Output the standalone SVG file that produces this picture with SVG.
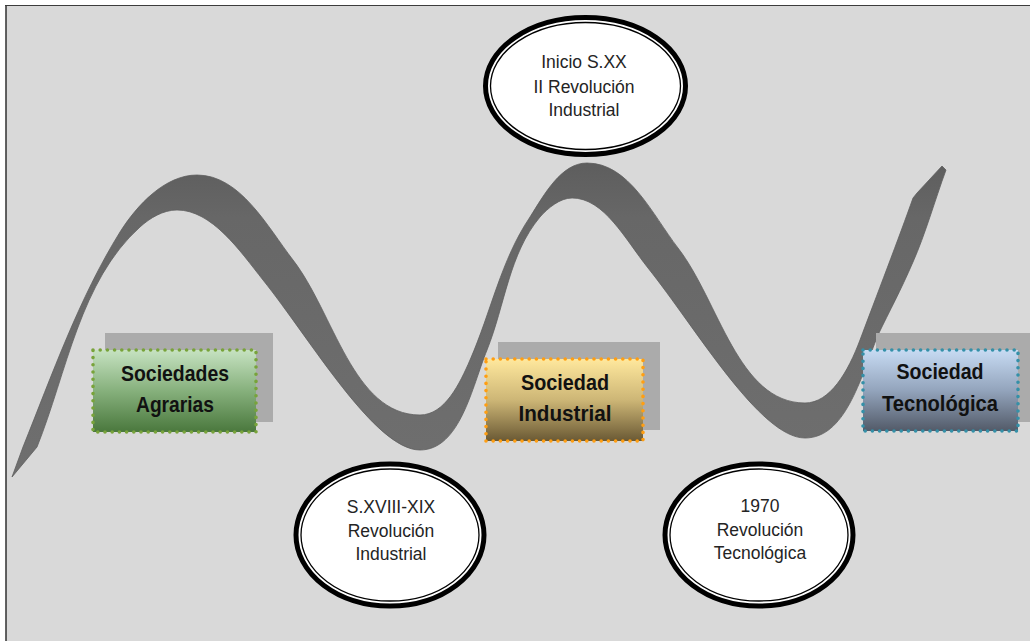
<svg xmlns="http://www.w3.org/2000/svg" width="1030" height="641" viewBox="0 0 1030 641">
  <defs>
    <linearGradient id="gGreen" x1="0" y1="0" x2="0" y2="1">
      <stop offset="0" stop-color="#c6e2c1"/>
      <stop offset="0.5" stop-color="#86b07c"/>
      <stop offset="1" stop-color="#4a783d"/>
    </linearGradient>
    <linearGradient id="gGold" x1="0" y1="0" x2="0" y2="1">
      <stop offset="0" stop-color="#ffe89d"/>
      <stop offset="0.5" stop-color="#cdb676"/>
      <stop offset="1" stop-color="#6a5934"/>
    </linearGradient>
    <linearGradient id="gBlue" x1="0" y1="0" x2="0" y2="1">
      <stop offset="0" stop-color="#c7dbf3"/>
      <stop offset="0.5" stop-color="#93a4bc"/>
      <stop offset="1" stop-color="#525a68"/>
    </linearGradient>
    <linearGradient id="gRibbon" x1="0" y1="160" x2="0" y2="480" gradientUnits="userSpaceOnUse">
      <stop offset="0" stop-color="#5d5d5d"/>
      <stop offset="0.18" stop-color="#676767"/>
      <stop offset="1" stop-color="#6f6f6f"/>
    </linearGradient>
  </defs>
  <style>
    .shadow { fill: #ababab; }
    .box { stroke-width: 3.6; stroke-linecap: round; stroke-dasharray: 0 7.2; }
    .boxText { font-family: "Liberation Sans", Arial, sans-serif; font-size: 22px; font-weight: bold; fill: #111; text-anchor: middle; }
    .ring { fill: #ffffff; stroke: #000000; stroke-width: 5; }
    .ringInner { fill: none; stroke: #000000; stroke-width: 1.3; }
    .ovalText { font-family: "Liberation Sans", Arial, sans-serif; font-size: 17.5px; fill: #242424; text-anchor: middle; }
  </style>

  <!-- frame -->
  <rect x="0" y="0" width="1030" height="641" fill="#ffffff"/>
  <rect x="6" y="5" width="1030" height="641" fill="#d9d9d9"/>
  <line x1="5" y1="5.5" x2="1030" y2="5.5" stroke="#3c3c3c" stroke-width="1.2"/>
  <line x1="6" y1="5" x2="6" y2="641" stroke="#3c3c3c" stroke-width="1.6"/>

  <!-- the wave ribbon -->
  <g id="connectors">
    <g id="wave">
      <path fill="url(#gRibbon)" stroke="#5e5e5e" stroke-width="0.8" stroke-linejoin="round"
        d="M 12,477 L 23,447 C 52,375 79,298 120,232 C 137,205 165,175 197,175
           C 240,175 267,226 293,260 C 334,313 353,415 420,415
           C 445,415 460,383 470,360 C 491,312 501,260 530,217
           C 544,195 561,163 587,163 C 629,163 652,214 678,248
           C 719,301 738,403 805,403 C 830,403 848,372 860,340
           C 875,300 900,235 913,198 L 917,193 L 942,166 L 946,170
           C 935,200 925,235 913,262 C 900,292 890,310 878,335
           C 860,380 845,438 805,438 C 760,438 696,328 648,268
           C 625,239 604,198 572,198 C 560,198 548,208 540,217
           C 509,254 505,305 487,350 C 472,387 460,450 420,450
           C 375,450 311,340 263,280 C 240,251 212,210 177,210
           C 163,210 150,218 140,227 C 80,281 67,372 37,447 Z"/>
    </g>
  </g>

  <!-- Sociedades Agrarias -->
  <g id="node-agrarias">
    <rect class="shadow" x="105" y="333" width="168" height="89"/>
    <rect class="box" x="93" y="350" width="163" height="82" fill="url(#gGreen)" stroke="#78a33a"/>
    <text class="boxText" x="175" y="381" textLength="108" lengthAdjust="spacingAndGlyphs">Sociedades</text>
    <text class="boxText" x="175" y="412" textLength="78" lengthAdjust="spacingAndGlyphs">Agrarias</text>
  </g>

  <!-- Sociedad Industrial -->
  <g id="node-industrial">
    <rect class="shadow" x="498" y="342" width="162" height="88"/>
    <rect class="box" x="486" y="359" width="157" height="82" fill="url(#gGold)" stroke="#ff9e12"/>
    <text class="boxText" x="565" y="390" textLength="88" lengthAdjust="spacingAndGlyphs">Sociedad</text>
    <text class="boxText" x="565" y="421" textLength="93" lengthAdjust="spacingAndGlyphs">Industrial</text>
  </g>

  <!-- Sociedad Tecnológica -->
  <g id="node-tecnologica">
    <rect class="shadow" x="876" y="333" width="160" height="89"/>
    <rect class="box" x="863" y="350" width="155" height="81" fill="url(#gBlue)" stroke="#3490a8"/>
    <text class="boxText" x="940" y="379" textLength="87" lengthAdjust="spacingAndGlyphs">Sociedad</text>
    <text class="boxText" x="940" y="411" textLength="116" lengthAdjust="spacingAndGlyphs">Tecnológica</text>
  </g>

  <!-- Inicio S.XX -->
  <g id="node-sxx">
    <ellipse class="ring" cx="585.5" cy="86" rx="100" ry="68.5"/>
    <ellipse class="ringInner" cx="585.5" cy="86" rx="95" ry="63.5"/>
    <text class="ovalText" x="584" y="68">Inicio S.XX</text>
    <text class="ovalText" x="584" y="93">II Revolución</text>
    <text class="ovalText" x="584" y="116">Industrial</text>
  </g>

  <!-- S.XVIII-XIX -->
  <g id="node-sxviii">
    <ellipse class="ring" cx="390" cy="535" rx="94" ry="71"/>
    <ellipse class="ringInner" cx="390" cy="535" rx="89" ry="66"/>
    <text class="ovalText" x="391" y="513">S.XVIII-XIX</text>
    <text class="ovalText" x="391" y="537">Revolución</text>
    <text class="ovalText" x="391" y="560">Industrial</text>
  </g>

  <!-- 1970 -->
  <g id="node-1970">
    <ellipse class="ring" cx="759" cy="535" rx="94" ry="71"/>
    <ellipse class="ringInner" cx="759" cy="535" rx="89" ry="66"/>
    <text class="ovalText" x="760" y="512">1970</text>
    <text class="ovalText" x="760" y="536">Revolución</text>
    <text class="ovalText" x="760" y="559">Tecnológica</text>
  </g>
</svg>
